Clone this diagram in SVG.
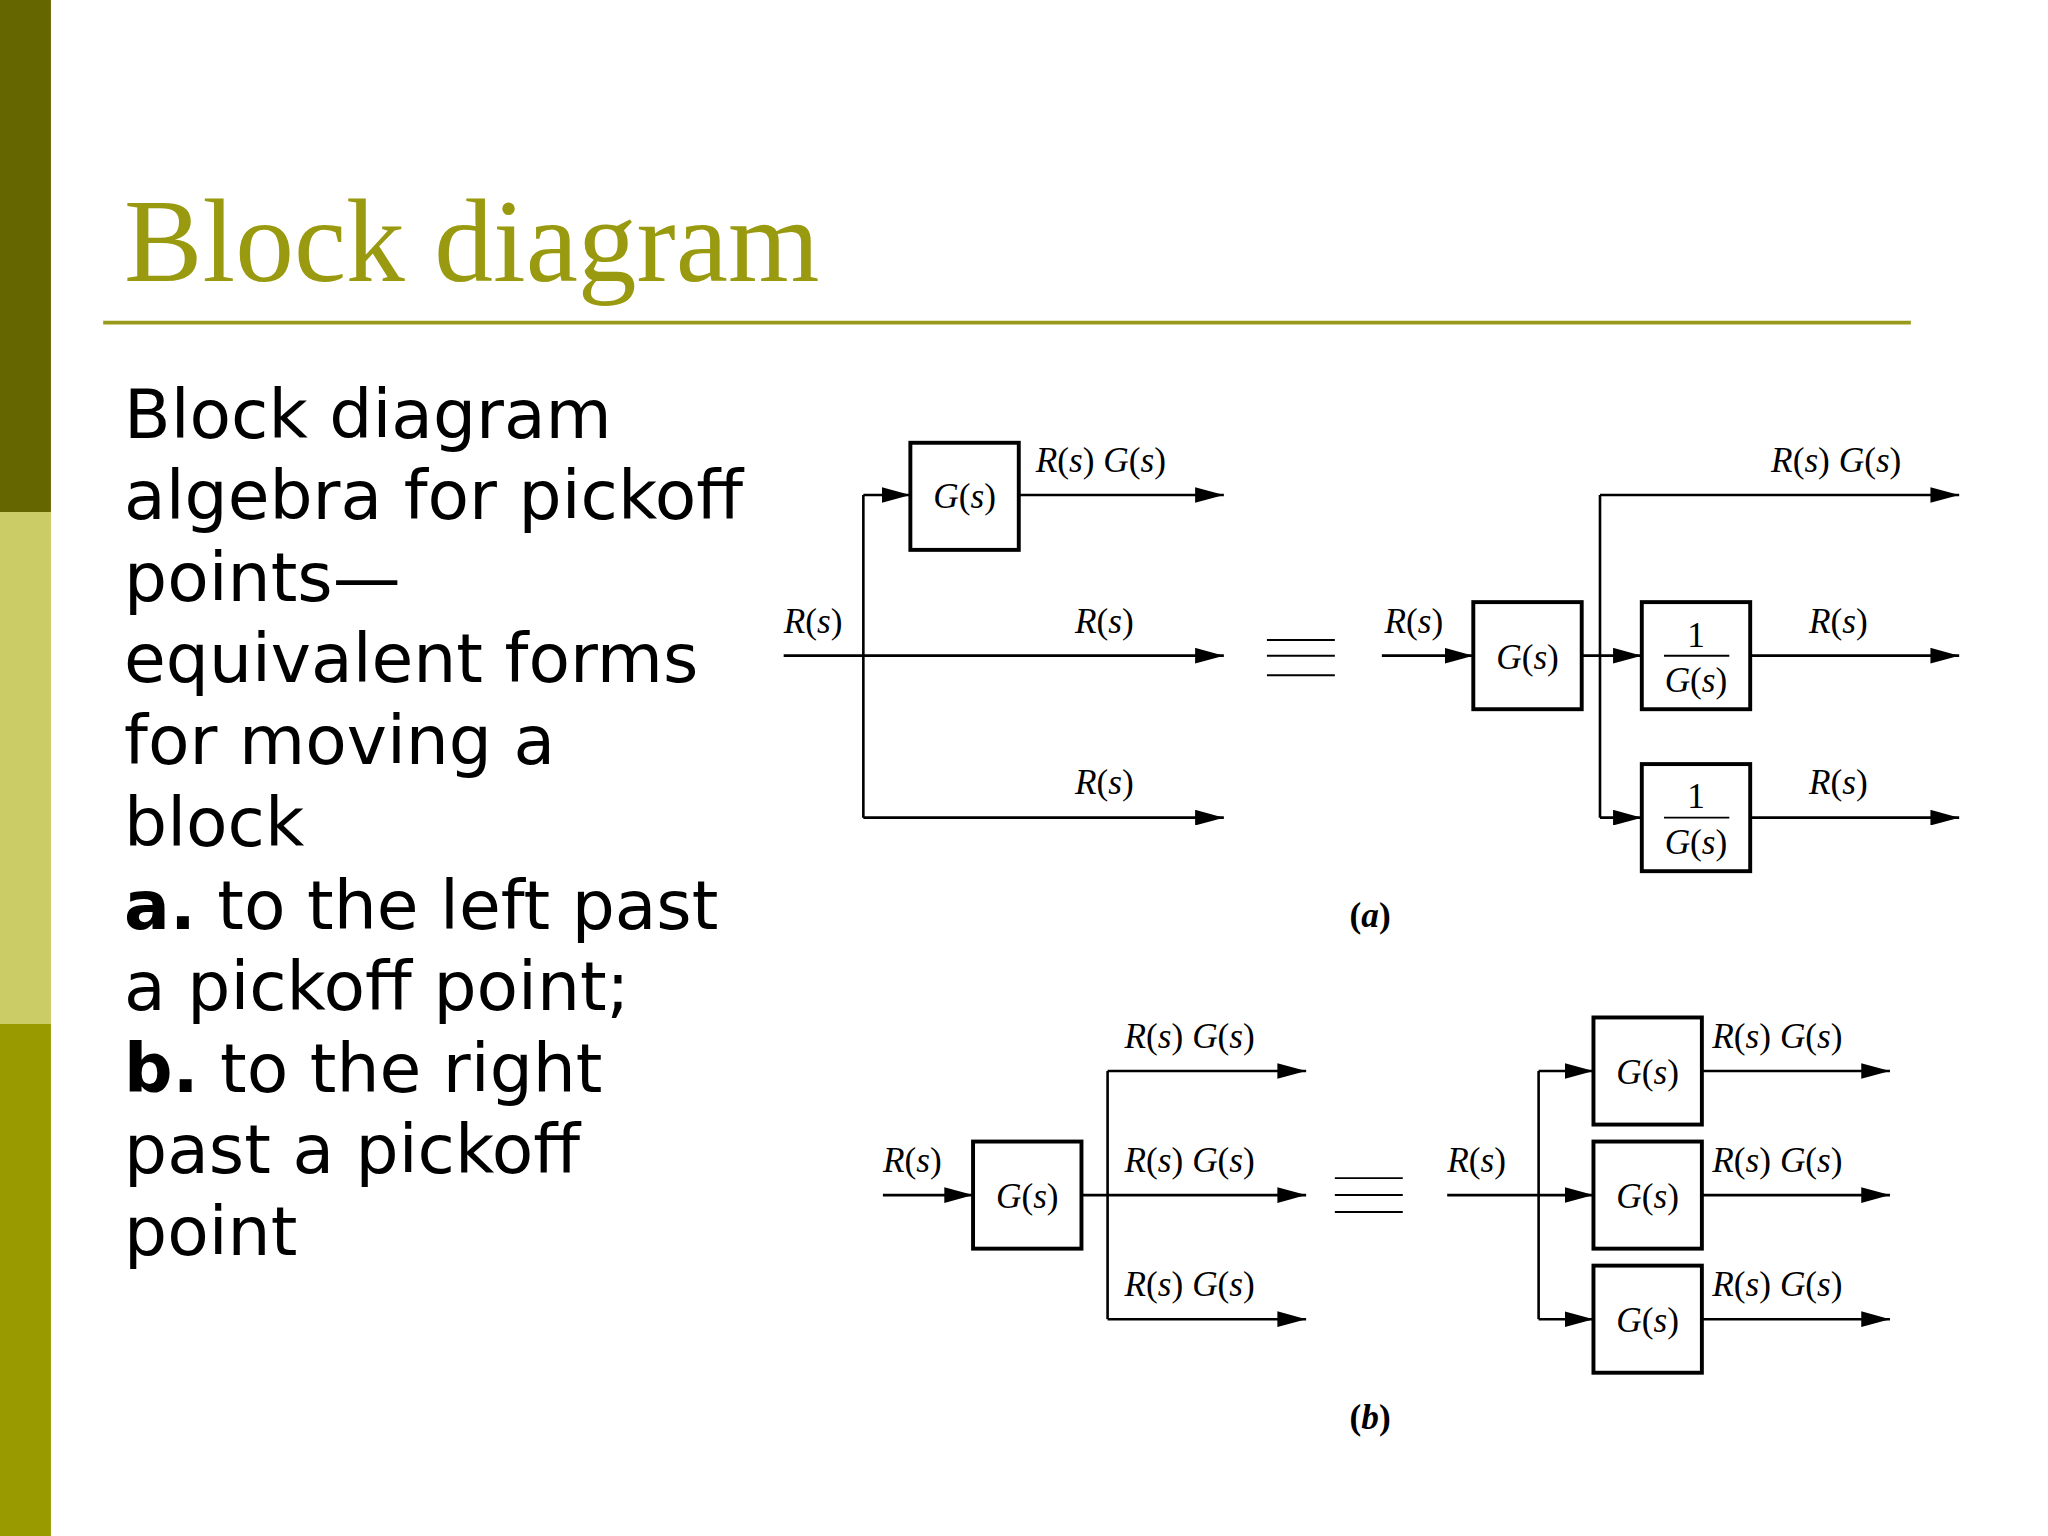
<svg xmlns="http://www.w3.org/2000/svg" width="2048" height="1536" viewBox="0 0 2048 1536">
<defs>
<style>
.ln{stroke:#000;stroke-width:2;fill:none}
.bx{stroke:#000;stroke-width:3;fill:#fff}
.lb{font-family:"Liberation Serif",serif;font-size:27px;fill:#000}
.i{font-style:italic}
.body{font-family:"DejaVu Sans",sans-serif;font-size:52px;fill:#000}
</style>
<marker id="ar" markerUnits="userSpaceOnUse" markerWidth="24" markerHeight="12" refX="22" refY="6" orient="auto"><path d="M0,0 L22,6 L0,12 z" fill="#000"/></marker>
</defs>
<rect width="2048" height="1536" fill="#fff"/>
<g transform="scale(1.30612)">
<rect x="0" y="0" width="39" height="392" fill="#666600"/>
<rect x="0" y="392" width="39" height="392" fill="#CCCC66"/>
<rect x="0" y="784" width="39" height="392" fill="#999900"/>
<text x="95" y="215" font-family="Liberation Serif,serif" font-size="90" fill="#9A9A10">Block diagram</text>
<line x1="79" y1="247" x2="1463" y2="247" stroke="#9A9A1A" stroke-width="3"/>
<text class="body">
<tspan x="95" y="335">Block diagram</tspan>
<tspan x="95" y="397">algebra for pickoff</tspan>
<tspan x="95" y="460">points—</tspan>
<tspan x="95" y="522">equivalent forms</tspan>
<tspan x="95" y="585">for moving a</tspan>
<tspan x="95" y="648">block</tspan>
<tspan x="95" y="711"><tspan font-weight="bold">a.</tspan> to the left past</tspan>
<tspan x="95" y="773">a pickoff point;</tspan>
<tspan x="95" y="836"><tspan font-weight="bold">b.</tspan> to the right</tspan>
<tspan x="95" y="898">past a pickoff</tspan>
<tspan x="95" y="961">point</tspan>
</text>
<g id="connectors">
<path class="ln" d="M600,502 H937" marker-end="url(#ar)"/>
<path class="ln" d="M661,379 V626"/>
<path class="ln" d="M661,379 H697" marker-end="url(#ar)"/>
<path class="ln" d="M780,379 H937" marker-end="url(#ar)"/>
<path class="ln" d="M661,626 H937" marker-end="url(#ar)"/>
<path class="ln" d="M1058,502 H1128" marker-end="url(#ar)"/>
<path class="ln" d="M1211,502 H1257" marker-end="url(#ar)"/>
<path class="ln" d="M1225,379 V626"/>
<path class="ln" d="M1225,379 H1500" marker-end="url(#ar)"/>
<path class="ln" d="M1225,626 H1257" marker-end="url(#ar)"/>
<path class="ln" d="M1340,502 H1500" marker-end="url(#ar)"/>
<path class="ln" d="M1340,626 H1500" marker-end="url(#ar)"/>
<path class="ln" d="M676,915 H745" marker-end="url(#ar)"/>
<path class="ln" d="M828,915 H1000" marker-end="url(#ar)"/>
<path class="ln" d="M848,820 V1010"/>
<path class="ln" d="M848,820 H1000" marker-end="url(#ar)"/>
<path class="ln" d="M848,1010 H1000" marker-end="url(#ar)"/>
<path class="ln" d="M1108,915 H1220" marker-end="url(#ar)"/>
<path class="ln" d="M1178,820 V1010"/>
<path class="ln" d="M1178,820 H1220" marker-end="url(#ar)"/>
<path class="ln" d="M1178,1010 H1220" marker-end="url(#ar)"/>
<path class="ln" d="M1303,820 H1447" marker-end="url(#ar)"/>
<path class="ln" d="M1303,915 H1447" marker-end="url(#ar)"/>
<path class="ln" d="M1303,1010 H1447" marker-end="url(#ar)"/>
</g>
<g id="equiv-a" stroke="#000" stroke-width="1.5"><line x1="970" y1="490" x2="1022" y2="490"/><line x1="970" y1="502" x2="1022" y2="502"/><line x1="970" y1="517" x2="1022" y2="517"/></g>
<g id="equiv-b" stroke="#000" stroke-width="1.5"><line x1="1022" y1="902" x2="1074" y2="902"/><line x1="1022" y1="915" x2="1074" y2="915"/><line x1="1022" y1="928" x2="1074" y2="928"/></g>
<g id="a-G"><rect class="bx" x="697" y="339" width="83" height="82"/><text class="lb" x="738.5" y="389" text-anchor="middle"><tspan class="i">G</tspan>(<tspan class="i">s</tspan>)</text></g>
<g id="a-G2"><rect class="bx" x="1128" y="461" width="83" height="82"/><text class="lb" x="1169.5" y="512" text-anchor="middle"><tspan class="i">G</tspan>(<tspan class="i">s</tspan>)</text></g>
<g id="a-inv1"><rect class="bx" x="1257" y="461" width="83" height="82"/><text class="lb" x="1298.5" y="495" text-anchor="middle" font-size="23">1</text><line x1="1274" y1="502" x2="1324" y2="502" stroke="#000" stroke-width="1.5"/><text class="lb" x="1298.5" y="530" text-anchor="middle"><tspan class="i">G</tspan>(<tspan class="i">s</tspan>)</text></g>
<g id="a-inv2"><rect class="bx" x="1257" y="585" width="83" height="82"/><text class="lb" x="1298.5" y="619" text-anchor="middle" font-size="23">1</text><line x1="1274" y1="626" x2="1324" y2="626" stroke="#000" stroke-width="1.5"/><text class="lb" x="1298.5" y="654" text-anchor="middle"><tspan class="i">G</tspan>(<tspan class="i">s</tspan>)</text></g>
<g id="b-G"><rect class="bx" x="745" y="874" width="83" height="82"/><text class="lb" x="786.5" y="925" text-anchor="middle"><tspan class="i">G</tspan>(<tspan class="i">s</tspan>)</text></g>
<g id="b-G1"><rect class="bx" x="1220" y="779" width="83" height="82"/><text class="lb" x="1261.5" y="830" text-anchor="middle"><tspan class="i">G</tspan>(<tspan class="i">s</tspan>)</text></g>
<g id="b-G2"><rect class="bx" x="1220" y="874" width="83" height="82"/><text class="lb" x="1261.5" y="925" text-anchor="middle"><tspan class="i">G</tspan>(<tspan class="i">s</tspan>)</text></g>
<g id="b-G3"><rect class="bx" x="1220" y="969" width="83" height="82"/><text class="lb" x="1261.5" y="1020" text-anchor="middle"><tspan class="i">G</tspan>(<tspan class="i">s</tspan>)</text></g>
<g id="labels" class="lb">
<text class="lb" x="793" y="361"><tspan class="i">R</tspan>(<tspan class="i">s</tspan>) <tspan class="i">G</tspan>(<tspan class="i">s</tspan>)</text>
<text class="lb" x="600" y="485"><tspan class="i">R</tspan>(<tspan class="i">s</tspan>)</text>
<text class="lb" x="823" y="485"><tspan class="i">R</tspan>(<tspan class="i">s</tspan>)</text>
<text class="lb" x="823" y="608"><tspan class="i">R</tspan>(<tspan class="i">s</tspan>)</text>
<text class="lb" x="1060" y="485"><tspan class="i">R</tspan>(<tspan class="i">s</tspan>)</text>
<text class="lb" x="1356" y="361"><tspan class="i">R</tspan>(<tspan class="i">s</tspan>) <tspan class="i">G</tspan>(<tspan class="i">s</tspan>)</text>
<text class="lb" x="1385" y="485"><tspan class="i">R</tspan>(<tspan class="i">s</tspan>)</text>
<text class="lb" x="1385" y="608"><tspan class="i">R</tspan>(<tspan class="i">s</tspan>)</text>
<text class="lb" x="1049" y="710" text-anchor="middle" font-weight="bold">(<tspan class="i">a</tspan>)</text>
<text class="lb" x="676" y="897"><tspan class="i">R</tspan>(<tspan class="i">s</tspan>)</text>
<text class="lb" x="861" y="802"><tspan class="i">R</tspan>(<tspan class="i">s</tspan>) <tspan class="i">G</tspan>(<tspan class="i">s</tspan>)</text>
<text class="lb" x="861" y="897"><tspan class="i">R</tspan>(<tspan class="i">s</tspan>) <tspan class="i">G</tspan>(<tspan class="i">s</tspan>)</text>
<text class="lb" x="861" y="992"><tspan class="i">R</tspan>(<tspan class="i">s</tspan>) <tspan class="i">G</tspan>(<tspan class="i">s</tspan>)</text>
<text class="lb" x="1108" y="897"><tspan class="i">R</tspan>(<tspan class="i">s</tspan>)</text>
<text class="lb" x="1311" y="802"><tspan class="i">R</tspan>(<tspan class="i">s</tspan>) <tspan class="i">G</tspan>(<tspan class="i">s</tspan>)</text>
<text class="lb" x="1311" y="897"><tspan class="i">R</tspan>(<tspan class="i">s</tspan>) <tspan class="i">G</tspan>(<tspan class="i">s</tspan>)</text>
<text class="lb" x="1311" y="992"><tspan class="i">R</tspan>(<tspan class="i">s</tspan>) <tspan class="i">G</tspan>(<tspan class="i">s</tspan>)</text>
<text class="lb" x="1049" y="1094" text-anchor="middle" font-weight="bold">(<tspan class="i">b</tspan>)</text>
</g>
</g>
</svg>
